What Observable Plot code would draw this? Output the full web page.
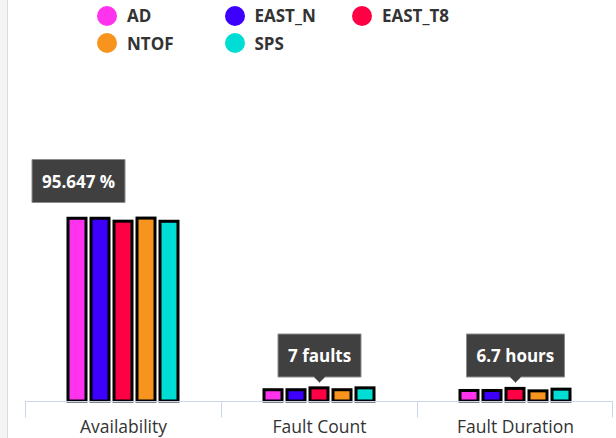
<!DOCTYPE html>
<html>
<head>
<meta charset="utf-8">
<script src="https://cdn.jsdelivr.net/npm/d3@7"></script>
<script src="https://cdn.jsdelivr.net/npm/@observablehq/plot@0.6"></script>
<style>
  html, body { margin: 0; padding: 0; background: #fff; }
  #wrap { position: relative; width: 616px; height: 438px; overflow: hidden; font-family: "Open Sans", sans-serif; }
  #strip { position: absolute; left: 0; top: 0; width: 7px; height: 438px; background: #f4f4f4; border-right: 1px solid #dcdcdc; }
  #legend { position: absolute; left: 97px; top: 2px; display: grid; grid-template-columns: repeat(3, 127.5px); grid-auto-rows: 27.5px; }
  .item { display: flex; align-items: center; font-weight: bold; font-size: 17px; color: #333; white-space: nowrap; }
  .sw { width: 20px; height: 20px; border-radius: 50%; margin-right: 10px; flex: none; }
  #chart { position: absolute; left: 0; top: 0; }
  #chart svg { font-family: "Open Sans", sans-serif; overflow: visible; }
  g[aria-label="tip"] text, g[aria-label="tip"] tspan { fill: #ffffff !important; }
</style>
</head>
<body>
<div id="wrap">
  <div id="strip"></div>
  <div id="chart"></div>
  <div id="legend"></div>
</div>
<script>
// ---- data ----
const metrics = ["Availability", "Fault Count", "Fault Duration"];
const series = ["AD", "EAST_N", "EAST_T8", "NTOF", "SPS"];
const colors = ["#ff33ee", "#3d00ff", "#ff0044", "#f7941d", "#00ddd5"];
const availability = [97.2, 97.2, 95.647, 97.3, 95.6];
const faultCount = [6, 6, 7, 6, 7];
const faultDuration = [5.6, 5.6, 6.7, 5.4, 6.3];
const units = [" %", " faults", " hours"];
const tooltipSeries = "EAST_T8";

const valuesByMetric = [availability, faultCount, faultDuration];
const data = [];
metrics.forEach((m, mi) => series.forEach((s, si) => data.push({metric: m, series: s, value: valuesByMetric[mi][si], label: valuesByMetric[mi][si] + units[mi]})));
const tipData = data.filter(d => d.series === tooltipSeries);

// ---- legend (HTML) ----
const legend = d3.select("#legend");
series.forEach((s, i) => {
  const it = legend.append("div").attr("class", "item");
  it.append("span").attr("class", "sw").style("background", colors[i]);
  it.append("span").text(s);
});

// ---- axis line + boundary ticks ----
const axisColor = "#ccd6eb";
const axisBase = Plot.ruleY(metrics, {
  fx: d => d,
  y: () => 0,
  render(index, scales, values, dimensions) {
    let r0, r1;
    try { [r0, r1] = scales.x.range(); } catch (e) { r0 = 0; r1 = dimensions.width; }
    const y0 = Math.round(scales.y(0)) + 0.5;
    const g = d3.create("svg:g").attr("stroke", axisColor).attr("stroke-width", 1).attr("fill", "none");
    g.append("line").attr("x1", r0).attr("x2", r1).attr("y1", y0).attr("y2", y0);
    for (const i of index) {
      g.append("line").attr("x1", Math.round(r0) + 0.5).attr("x2", Math.round(r0) + 0.5).attr("y1", y0).attr("y2", y0 + 16);
      if (metrics[i] === metrics[metrics.length - 1]) {
        g.append("line").attr("x1", Math.round(r1) - 0.5).attr("x2", Math.round(r1) - 0.5).attr("y1", y0).attr("y2", y0 + 16);
      }
    }
    return g.node();
  }
});

const tipStyle = {fill: "#404040", stroke: "#8c8c8c", strokeWidth: 1, pathFilter: "none", fontSize: 17, fontWeight: "bold", textPadding: 10};

const chart = Plot.plot({
  width: 616,
  height: 438,
  marginLeft: 25,
  marginRight: 3,
  marginTop: 213,
  marginBottom: 37,
  style: {fontFamily: "Open Sans, sans-serif", background: "transparent", overflow: "visible"},
  fx: {domain: metrics, padding: 0, axis: null, label: null},
  x: {domain: series, paddingInner: 0.2, paddingOuter: 1.725, axis: null},
  y: {domain: [0, 100], axis: null},
  color: {domain: series, range: colors},
  marks: [
    Plot.barY(data, {fx: "metric", x: "series", y: "value", fill: "series", stroke: "#000", strokeWidth: 3}),
    axisBase,
    Plot.axisFx({anchor: "bottom", tickSize: 0, tickPadding: 19, fontSize: 17.5, fill: "#333", label: null}),
    Plot.tip(tipData.filter(d => d.metric === metrics[0]), {
      fx: "metric", x: "series", y: "value", title: "label",
      anchor: "bottom", pointerSize: 0, dx: -45, dy: -19, ...tipStyle
    }),
    Plot.tip(tipData.filter(d => d.metric !== metrics[0]), {
      fx: "metric", x: "series", y: "value", title: "label",
      anchor: "bottom", pointerSize: 11, dy: -6, ...tipStyle
    })
  ]
});
document.getElementById("chart").appendChild(chart);
</script>
</body>
</html>
